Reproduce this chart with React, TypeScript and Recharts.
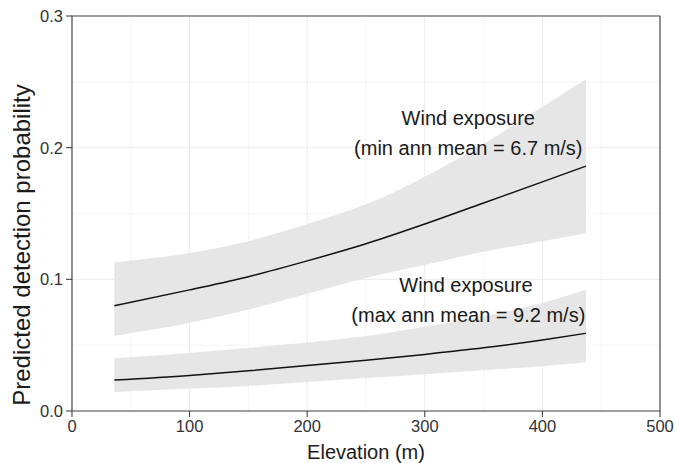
import React from 'react';
import {
  ComposedChart,
  Area,
  Line,
  XAxis,
  YAxis,
  CartesianGrid,
  ReferenceArea,
  ReferenceDot,
  Label,
} from 'recharts';

const elevation = [36, 100, 150, 200, 250, 300, 350, 400, 437];

// wind exposure: min annual mean = 6.7 m/s
const minWindFit = [0.080, 0.092, 0.102, 0.114, 0.127, 0.142, 0.158, 0.174, 0.186];
const minWindLower = [0.057, 0.067, 0.077, 0.089, 0.101, 0.111, 0.121, 0.129, 0.135];
const minWindUpper = [0.113, 0.120, 0.129, 0.142, 0.157, 0.178, 0.203, 0.231, 0.252];

// wind exposure: max annual mean = 9.2 m/s
const maxWindFit = [0.0235, 0.027, 0.0305, 0.0345, 0.0385, 0.043, 0.048, 0.054, 0.059];
const maxWindLower = [0.0144, 0.017, 0.019, 0.022, 0.025, 0.028, 0.031, 0.034, 0.037];
const maxWindUpper = [0.040, 0.044, 0.048, 0.052, 0.057, 0.064, 0.072, 0.082, 0.092];

const xTicks = [0, 100, 200, 300, 400, 500];
const yTicks = [0, 0.1, 0.2, 0.3];
const xMinor = [50, 150, 250, 350, 450];
const yMinor = [0.05, 0.15, 0.25];

const data = elevation.map((e, i) => ({
  elevation: e,
  minFit: minWindFit[i],
  minBand: [minWindLower[i], minWindUpper[i]],
  maxFit: maxWindFit[i],
  maxBand: [maxWindLower[i], maxWindUpper[i]],
}));

const notes = [
  { x: 337, y: 0.2227, text: 'Wind exposure' },
  { x: 337, y: 0.2, text: '(min ann mean = 6.7 m/s)' },
  { x: 335, y: 0.0955, text: 'Wind exposure' },
  { x: 337, y: 0.0727, text: '(max ann mean = 9.2 m/s)' },
];

const FONT = '"Liberation Sans", Arial, Helvetica, sans-serif';
const BAND = '#e6e6e6';
const TICK_TEXT = { fill: '#333', fontSize: 16.5, fontFamily: FONT };

export default function App() {
  return (
    <div style={{ position: 'absolute', left: 0, top: 0, background: '#fff' }}>
      <ComposedChart
        width={675}
        height={463}
        data={data}
        margin={{ top: 16, right: 15, bottom: 10, left: 10 }}
        style={{ fontFamily: FONT }}
      >
        <CartesianGrid
          stroke="#f5f5f5"
          strokeWidth={1}
          horizontalValues={yMinor}
          verticalValues={xMinor}
        />
        <CartesianGrid
          stroke="#ebebeb"
          strokeWidth={1}
          horizontalValues={yTicks}
          verticalValues={xTicks}
        />
        <XAxis
          dataKey="elevation"
          type="number"
          domain={[0, 500]}
          ticks={xTicks}
          height={42}
          axisLine={false}
          tickLine={{ stroke: '#333' }}
          tickSize={6}
          tickMargin={3}
          tick={TICK_TEXT}
        >
          <Label
            content={({ viewBox }: any) => (
              <text
                x={viewBox.x + viewBox.width / 2}
                y={459}
                textAnchor="middle"
                fontSize={20}
                fill="#1a1a1a"
                fontFamily={FONT}
              >
                Elevation (m)
              </text>
            )}
          />
        </XAxis>
        <YAxis
          type="number"
          domain={[0, 0.3]}
          ticks={yTicks}
          width={62}
          axisLine={false}
          tickLine={{ stroke: '#333' }}
          tickSize={6}
          tickMargin={3}
          tick={TICK_TEXT}
          tickFormatter={(v: number) => v.toFixed(1)}
        >
          <Label
            content={() => (
              <text
                x={0}
                y={0}
                transform="translate(30, 245) rotate(-90)"
                textAnchor="middle"
                fontSize={24}
                fill="#1a1a1a"
                fontFamily={FONT}
              >
                Predicted detection probability
              </text>
            )}
          />
        </YAxis>
        <Area
          dataKey="minBand"
          type="monotone"
          fill={BAND}
          fillOpacity={1}
          stroke="none"
          isAnimationActive={false}
        />
        <Area
          dataKey="maxBand"
          type="monotone"
          fill={BAND}
          fillOpacity={1}
          stroke="none"
          isAnimationActive={false}
        />
        <Line
          dataKey="minFit"
          type="monotone"
          stroke="#111"
          strokeWidth={1.5}
          dot={false}
          isAnimationActive={false}
        />
        <Line
          dataKey="maxFit"
          type="monotone"
          stroke="#111"
          strokeWidth={1.5}
          dot={false}
          isAnimationActive={false}
        />
        {notes.map((n, i) => (
          <ReferenceDot
            key={i}
            x={n.x}
            y={n.y}
            r={0}
            stroke="none"
            fill="none"
            label={{ value: n.text, position: 'center', fontSize: 20, fill: '#1a1a1a', fontFamily: FONT }}
          />
        ))}
        <ReferenceArea
          x1={0}
          x2={500}
          y1={0}
          y2={0.3}
          fill="none"
          stroke="#4d4d4d"
          strokeWidth={1.2}
          ifOverflow="visible"
        />
      </ComposedChart>
    </div>
  );
}
